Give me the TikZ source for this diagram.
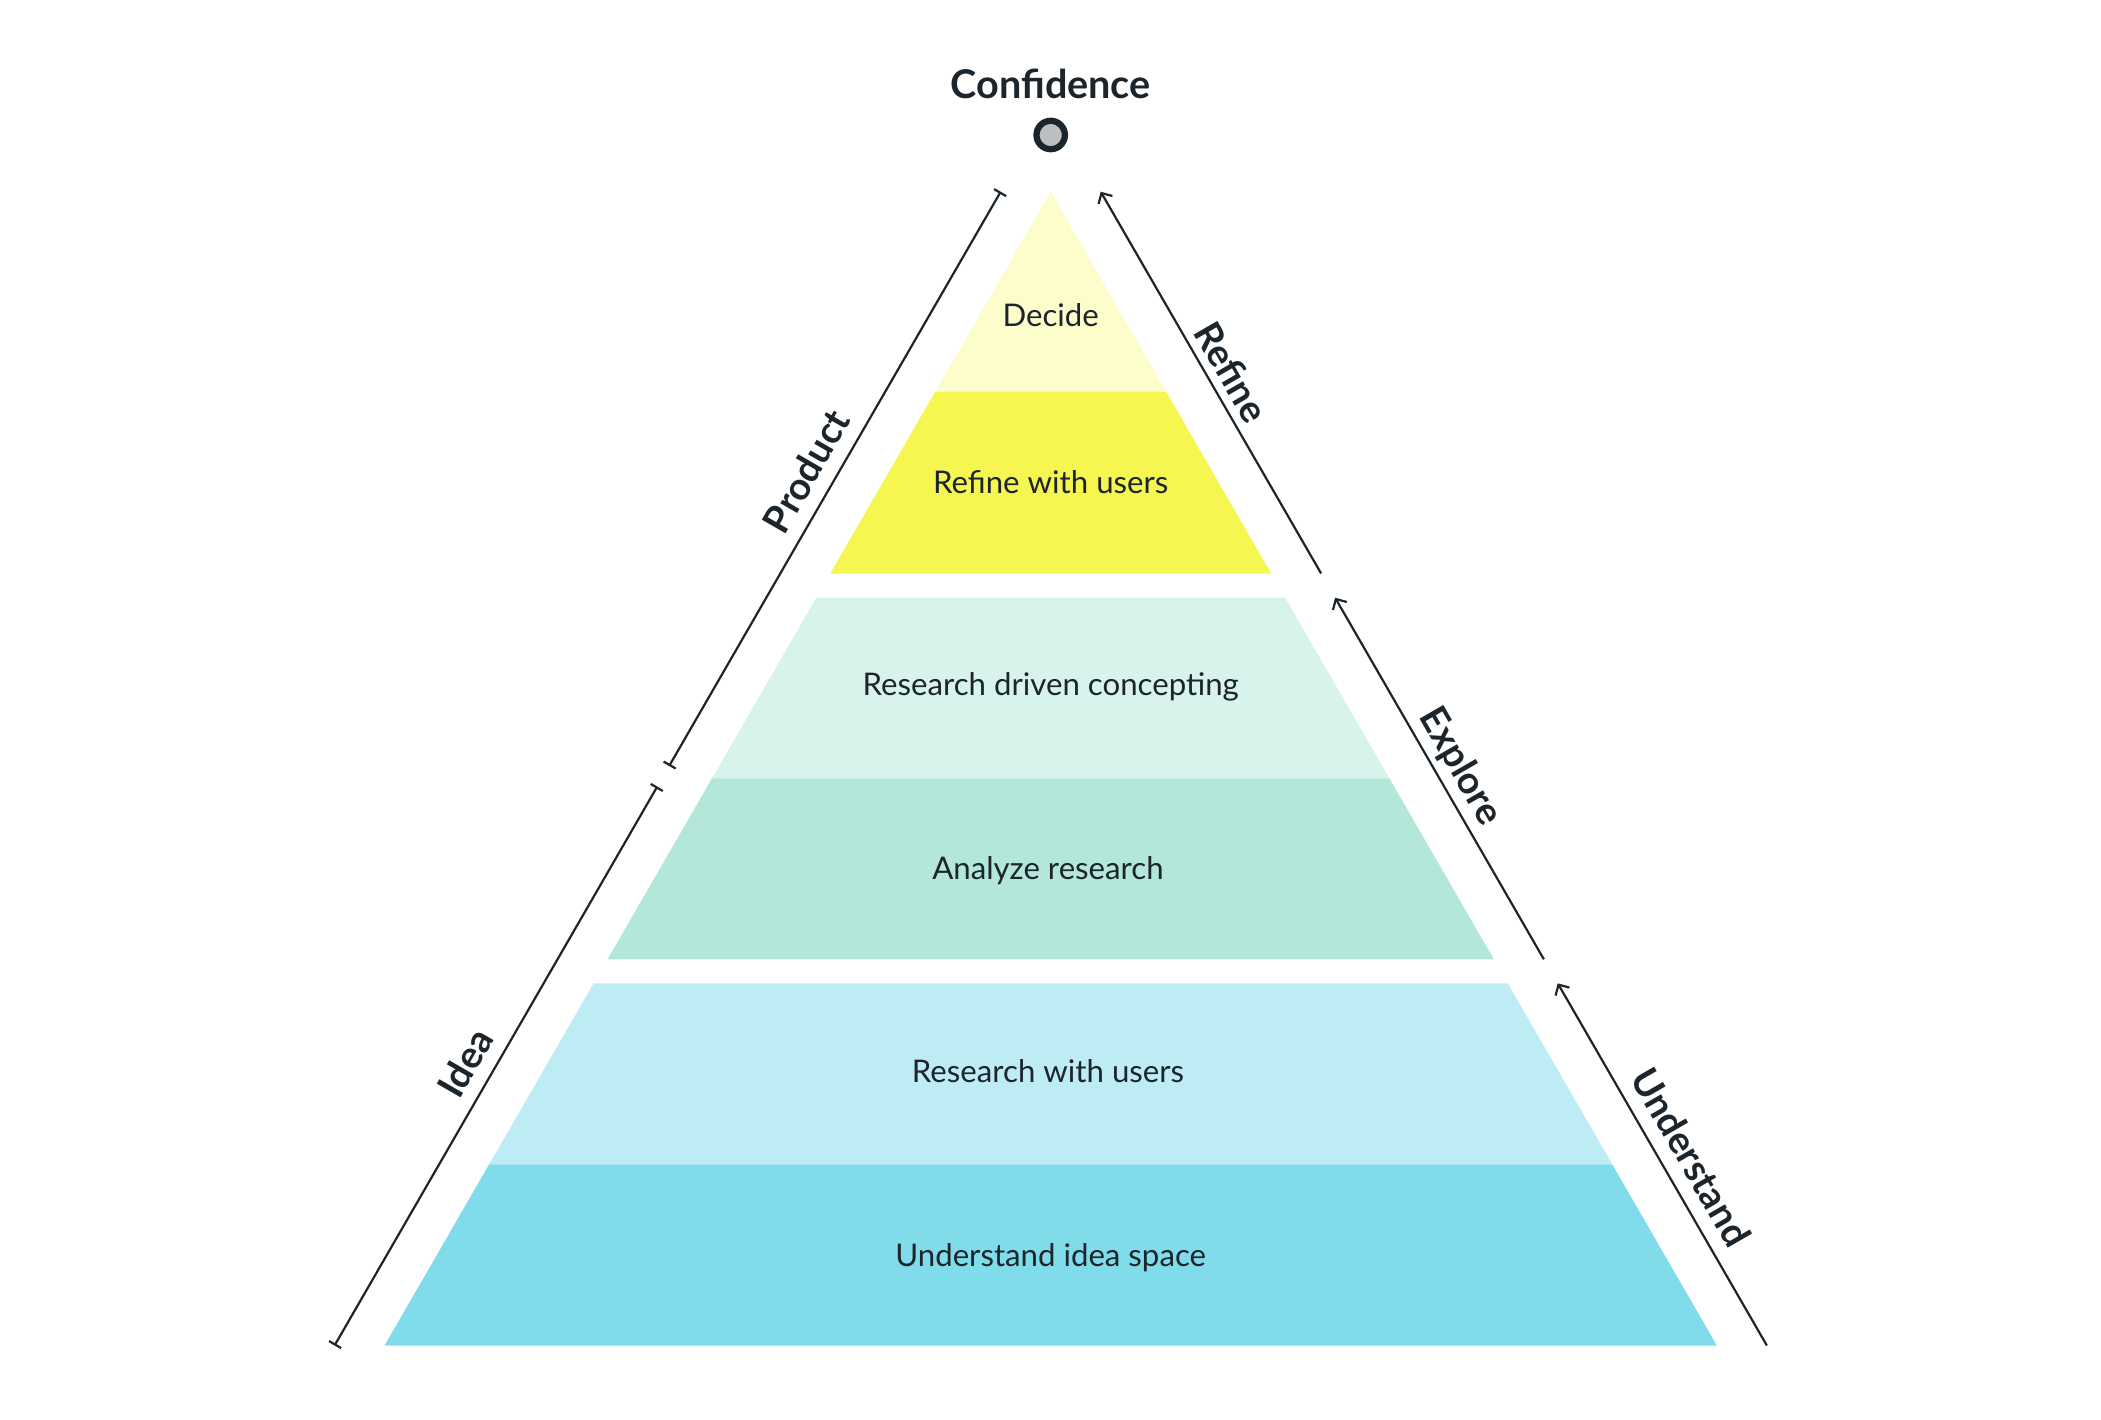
\documentclass[tikz,border=0pt]{standalone}
\usepackage{fontspec}
\setmainfont{Lato}
\usetikzlibrary{arrows.meta}
\definecolor{ink}{HTML}{1D252C}
\definecolor{dotgray}{HTML}{BDBEC1}
\definecolor{cDecide}{HTML}{FDFCCB}
\definecolor{cRefine}{HTML}{F6F650}
\definecolor{cConcept}{HTML}{D8F3EC}
\definecolor{cAnalyze}{HTML}{B2E7D9}
\definecolor{cResearch}{HTML}{BEECF4}
\definecolor{cUnderstand}{HTML}{80DCEB}
\begin{document}
\begin{tikzpicture}[x=0.5pt,y=-0.5pt,
  tiertext/.style={text=ink, font=\fontsize{15.6}{18}\selectfont, anchor=base, inner sep=0pt},
  sidelabel/.style={text=ink, font=\fontsize{19}{22}\selectfont\bfseries, inner sep=0pt},
  arrowline/.style={draw=ink, line width=1.1pt, -{Straight Barb[length=4pt,width=8pt,line width=1.1pt]}},
  barline/.style={draw=ink, line width=1.1pt, {Bar[width=7pt,line width=1.1pt]}-{Bar[width=7pt,line width=1.1pt]}}
]
\useasboundingbox (0,0) rectangle (2101,1420);

% tiers
\fill[cDecide] (1050.7,191.7) -- (1166.17,391.7) -- (935.23,391.7) -- cycle;
\fill[cRefine] (935.23,391.7) -- (1166.17,391.7) -- (1271.25,573.7) -- (830.15,573.7) -- cycle;
\fill[cConcept] (816.3,597.7) -- (1285.1,597.7) -- (1389.37,778.3) -- (712.03,778.3) -- cycle;
\fill[cAnalyze] (712.03,778.3) -- (1389.37,778.3) -- (1493.87,959.3) -- (607.53,959.3) -- cycle;
\fill[cResearch] (593.67,983.3) -- (1507.73,983.3) -- (1612.29,1164.4) -- (489.11,1164.4) -- cycle;
\fill[cUnderstand] (489.11,1164.4) -- (1612.29,1164.4) -- (1716.85,1345.5) -- (384.55,1345.5) -- cycle;

% tier texts
\node[tiertext] (decide) at (1050.7,326) {Decide};
\node[tiertext] (refineusers) at (1050.7,493) {Refine with users};
\node[tiertext] (concepting) at (1050.7,695.5) {Research driven concepting};
\node[tiertext] (analyze) at (1048,879.5) {Analyze research};
\node[tiertext] (researchusers) at (1048,1082) {Research with users};
\node[tiertext] (ideaspace) at (1050.7,1266) {Understand idea space};

% top
\node[text=ink, font=\fontsize{19.8}{23}\selectfont\bfseries, anchor=base, inner sep=0pt] (confidence) at (1050.7,98.5) {Confidence};
\node[circle, fill=dotgray, draw=ink, line width=3.15pt, minimum size=14.2pt, inner sep=0pt] (dot) at (1050.7,135) {};

% right arrows
\coordinate (rA1) at (1321.14,573.5);
\coordinate (rA2) at (1100.7,191.7);
\coordinate (rB1) at (1543.87,959.3);
\coordinate (rB2) at (1335.1,597.7);
\coordinate (rC1) at (1766.85,1345.5);
\coordinate (rC2) at (1557.73,983.3);
\draw[arrowline] (rA1) -- (rA2);
\draw[arrowline] (rB1) -- (rB2);
\draw[arrowline] (rC1) -- (rC2);

% left bars
\coordinate (lA1) at (1000.7,191.7);
\coordinate (lA2) at (669.13,766);
\coordinate (lB1) at (657.29,786.5);
\coordinate (lB2) at (334.55,1345.5);
\draw[barline] (lA1) -- (lA2);
\draw[barline] (lB1) -- (lB2);

% side labels
\node[sidelabel, rotate=60] (product) at (806,471) {Product};
\node[sidelabel, rotate=60] (idea) at (465,1062.6) {Idea};
\node[sidelabel, rotate=-60] (refine) at (1231.5,372) {Refine};
\node[sidelabel, rotate=-60] (explore) at (1460,767) {Explore};
\node[sidelabel, rotate=-60] (understand) at (1691.5,1157) {Understand};
\end{tikzpicture}
\end{document}
